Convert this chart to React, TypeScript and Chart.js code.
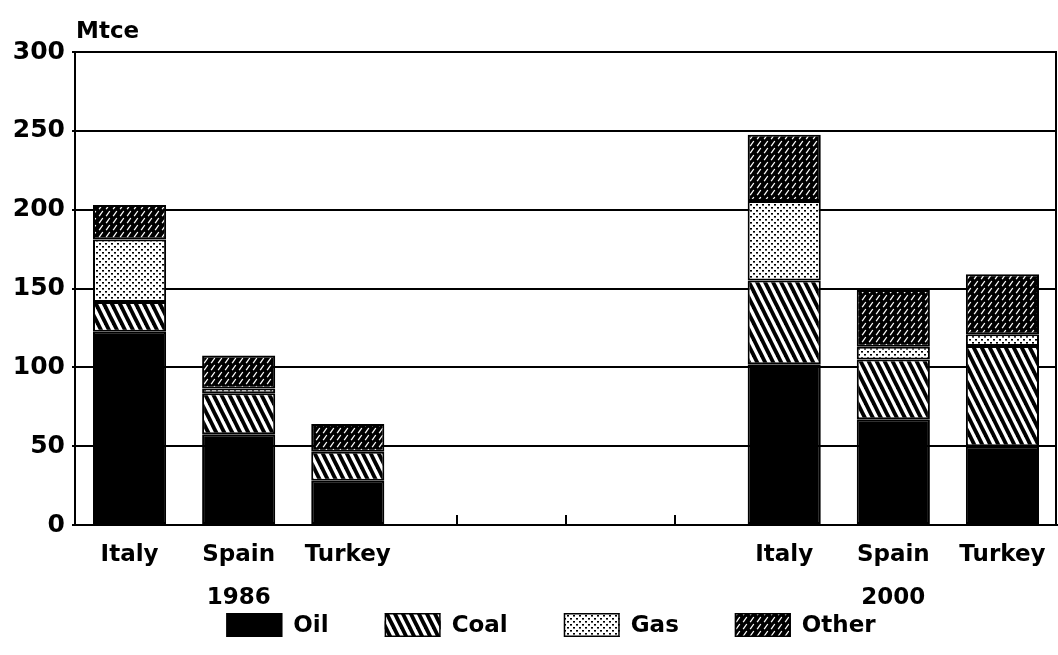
import React, { useEffect, useRef } from 'react';
import { Chart, registerables } from 'chart.js';

Chart.register(...registerables);

// ---- Data ----
const categories: (string | string[])[] = [
  'Italy', ['Spain', '1986'], 'Turkey', '', '', '', 'Italy', ['Spain', '2000'], 'Turkey',
];
const oilValues = [122.5, 57.5, 28, null, null, null, 102, 67, 50];
const coalValues = [19, 26, 18.5, null, null, null, 53, 38, 63.5];
const gasValues = [39.5, 3, 0, null, null, null, 50.5, 8, 7.5];
const otherValues = [22, 21, 17.5, null, null, null, 42, 36, 38];
const seriesNames = ['Oil', 'Coal', 'Gas', 'Other'];
const unitLabel = 'Mtce';
const yMin = 0;
const yMax = 300;
const yStep = 50;

const FONT = '"DejaVu Sans", sans-serif';

function makePattern(kind: string): CanvasPattern | string {
  if (kind === 'solid') return '#000';
  const c = document.createElement('canvas');
  if (kind === 'coal') {
    const w = 8;
    const h = 16;
    c.width = w;
    c.height = h;
    const g = c.getContext('2d')!;
    g.fillStyle = '#fff';
    g.fillRect(0, 0, w, h);
    g.strokeStyle = '#000';
    g.lineWidth = 3.9;
    for (let k = -1; k <= 1; k++) {
      g.beginPath();
      g.moveTo(k * w - 1, -2);
      g.lineTo(k * w + w + 1, h + 2);
      g.stroke();
    }
    return g.createPattern(c, 'repeat')!;
  }
  if (kind === 'gas') {
    const s = 6;
    c.width = s;
    c.height = s;
    const g = c.getContext('2d')!;
    g.fillStyle = '#fff';
    g.fillRect(0, 0, s, s);
    g.fillStyle = '#000';
    g.fillRect(0, 0, 2, 1.6);
    g.fillRect(3, 3, 2, 1.6);
    return g.createPattern(c, 'repeat')!;
  }
  // other: dark with white slash dashes
  const w = 7;
  const h = 7;
  c.width = w;
  c.height = h;
  const g = c.getContext('2d')!;
  g.fillStyle = '#000';
  g.fillRect(0, 0, w, h);
  g.strokeStyle = '#fff';
  g.lineWidth = 1.3;
  g.beginPath();
  g.moveTo(1.2, 6.2);
  g.lineTo(4.8, 1.0);
  g.stroke();
  return g.createPattern(c, 'repeat')!;
}

const unitPlugin = {
  id: 'unitLabel',
  afterDraw(chart: any) {
    const { ctx, chartArea } = chart;
    ctx.save();
    ctx.font = `bold 23px ${FONT}`;
    ctx.fillStyle = '#000';
    ctx.textAlign = 'left';
    ctx.textBaseline = 'alphabetic';
    ctx.fillText(unitLabel, chartArea.left + 1, chartArea.top - 14);
    ctx.restore();
  },
};

const rightBorderPlugin = {
  id: 'rightBorder',
  beforeDatasetsDraw(chart: any) {
    const { ctx, chartArea } = chart;
    ctx.save();
    ctx.strokeStyle = '#000';
    ctx.lineWidth = 2;
    ctx.beginPath();
    ctx.moveTo(chartArea.right - 1, chartArea.top);
    ctx.lineTo(chartArea.right - 1, chartArea.bottom);
    ctx.stroke();
    ctx.restore();
  },
};

const legendPlugin = {
  id: 'patternLegend',
  afterDraw(chart: any) {
    const { ctx, chartArea } = chart;
    const boxW = 56;
    const boxH = 24;
    const textGap = 11;
    const itemGap = 56;
    const top = chartArea.bottom + 88;
    const centerX = chart.width / 2 + 22;
    ctx.save();
    ctx.font = `bold 23px ${FONT}`;
    const items = chart.data.datasets.map((ds: any) => ({
      text: ds.label as string,
      fill: ds.backgroundColor,
      w: ctx.measureText(ds.label).width,
    }));
    const total =
      items.reduce((sum: number, it: any) => sum + boxW + textGap + it.w, 0) +
      itemGap * (items.length - 1);
    let x = centerX - total / 2;
    for (const it of items) {
      ctx.fillStyle = it.fill;
      ctx.fillRect(x, top, boxW, boxH);
      ctx.strokeStyle = '#000';
      ctx.lineWidth = 1.5;
      ctx.strokeRect(x + 0.75, top + 0.75, boxW - 1.5, boxH - 1.5);
      ctx.fillStyle = '#000';
      ctx.textAlign = 'left';
      ctx.textBaseline = 'middle';
      ctx.fillText(it.text, x + boxW + textGap, top + boxH / 2 + 1);
      x += boxW + textGap + it.w + itemGap;
    }
    ctx.restore();
  },
};

export default function App() {
  const ref = useRef<HTMLCanvasElement | null>(null);

  useEffect(() => {
    if (!ref.current) return;
    const patterns = [
      makePattern('solid'),
      makePattern('coal'),
      makePattern('gas'),
      makePattern('other'),
    ];
    const values = [oilValues, coalValues, gasValues, otherValues];
    const chart = new Chart(ref.current, {
      type: 'bar',
      data: {
        labels: categories as any,
        datasets: seriesNames.map((name, i) => ({
          label: name,
          data: values[i] as any,
          backgroundColor: patterns[i] as any,
          borderColor: '#000',
          borderWidth: 2,
          borderSkipped: false,
          barPercentage: 0.67,
          categoryPercentage: 1,
        })),
      },
      options: {
        responsive: false,
        animation: false,
        devicePixelRatio: 1,
        layout: { padding: { top: 52, right: 1, bottom: 40, left: 0 } },
        font: { family: FONT } as any,
        plugins: {
          legend: { display: false },
          tooltip: { enabled: false },
          title: { display: false },
        },
        scales: {
          x: {
            stacked: true,
            ticks: {
              color: '#000',
              font: { family: FONT, size: 23, weight: 'bold', lineHeight: 1.85 },
              padding: 19,
              autoSkip: false,
              maxRotation: 0,
            },
            grid: {
              offset: false,
              drawOnChartArea: false,
              drawTicks: true,
              tickLength: -10,
              color: '#000',
              lineWidth: 2,
            },
            border: { color: '#000', width: 2 },
            afterFit: (s: any) => {
              s.height = 90;
              s.paddingLeft = 0;
              s.paddingRight = 0;
            },
          },
          y: {
            stacked: true,
            min: yMin,
            max: yMax,
            ticks: {
              stepSize: yStep,
              color: '#000',
              font: { family: FONT, size: 25, weight: 'bold' },
              padding: 7,
            },
            grid: { color: '#000', lineWidth: 2, tickLength: 3 },
            border: { color: '#000', width: 2 },
            afterFit: (s: any) => {
              s.width = 75;
            },
          },
        },
      } as any,
      plugins: [unitPlugin, rightBorderPlugin, legendPlugin],
    });
    return () => chart.destroy();
  }, []);

  return (
    <div style={{ position: 'absolute', left: 0, top: 0, width: 1058, height: 655, background: '#fff' }}>
      <canvas ref={ref} width={1058} height={655} />
    </div>
  );
}
